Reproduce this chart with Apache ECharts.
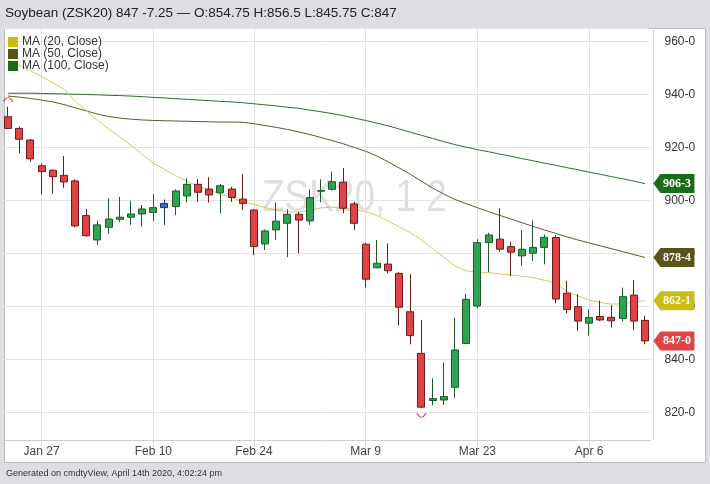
<!DOCTYPE html>
<html>
<head>
<meta charset="utf-8">
<script src="https://cdn.jsdelivr.net/npm/echarts@6.0.0/dist/echarts.min.js"></script>
<style>
html, body { margin: 0; padding: 0; background: #dcdee1; }
#main { width: 710px; height: 484px; }
</style>
</head>
<body>
<div id="main"></div>
<script>
let chart = echarts.init(document.getElementById("main"));

// trading days shown
const dates = [
    "Jan 22", "Jan 23", "Jan 24", "Jan 27", "Jan 28", "Jan 29", "Jan 30", "Jan 31",
    "Feb 3", "Feb 4", "Feb 5", "Feb 6", "Feb 7", "Feb 10", "Feb 11", "Feb 12", "Feb 13", "Feb 14",
    "Feb 18", "Feb 19", "Feb 20", "Feb 21", "Feb 24", "Feb 25", "Feb 26", "Feb 27", "Feb 28",
    "Mar 2", "Mar 3", "Mar 4", "Mar 5", "Mar 6", "Mar 9", "Mar 10", "Mar 11", "Mar 12", "Mar 13",
    "Mar 16", "Mar 17", "Mar 18", "Mar 19", "Mar 20", "Mar 23", "Mar 24", "Mar 25", "Mar 26", "Mar 27",
    "Mar 30", "Mar 31", "Apr 1", "Apr 2", "Apr 3", "Apr 6", "Apr 7", "Apr 8", "Apr 9", "Apr 13", "Apr 14"
];
const opens = [
    931.6, 927.2, 922.8, 913.1, 911.4, 909.5, 907.4, 894.3, 885.1, 889.9,
    892.9, 893.7, 894.9, 895.5, 897.3, 897.7, 901.7, 906.1, 904.3, 902.9,
    904.3, 900.5, 896.4, 883.6, 888.9, 891.4, 894.8, 892.3, 903.5, 904.2,
    906.9, 898.7, 883.5, 874.6, 876.0, 872.5, 858.0, 842.3, 824.5, 824.7,
    829.5, 846.0, 860.2, 884.1, 885.4, 882.6, 879.1, 880.1, 882.3, 886.0,
    865.0, 859.9, 853.7, 856.2, 855.9, 855.5, 864.3, 854.75
];
const closes = [
    927.2, 923.1, 915.7, 910.9, 909.0, 907.0, 890.4, 886.7, 890.8, 893.0,
    893.7, 894.9, 896.8, 897.3, 898.9, 903.6, 906.1, 903.1, 902.1, 905.6,
    901.1, 898.9, 882.6, 888.5, 892.2, 894.8, 892.6, 901.1, 903.75, 907.1,
    897.1, 891.4, 870.3, 876.3, 873.5, 859.7, 849.0, 822.0, 825.25, 826.0,
    843.6, 862.7, 884.1, 887.0, 881.6, 880.5, 881.6, 882.3, 886.1, 862.8,
    858.9, 854.5, 855.8, 854.9, 854.6, 863.7, 854.5, 847.0
];
const lows = [
    927.0, 917.8, 914.6, 902.3, 902.5, 904.8, 889.9, 886.3, 883.2, 887.4,
    891.8, 890.8, 890.1, 892.3, 890.8, 894.5, 899.2, 899.5, 899.2, 895.2,
    899.5, 896.4, 879.4, 881.3, 885.1, 878.6, 880.1, 890.8, 899.3, 903.7,
    895.2, 888.9, 867.2, 874.4, 872.5, 852.8, 845.7, 821.6, 822.8, 822.8,
    825.4, 846.0, 859.3, 872.9, 880.7, 871.5, 875.4, 877.2, 875.9, 861.2,
    857.4, 850.9, 849.0, 854.5, 852.0, 854.3, 851.1, 845.75
];
const highs = [
    935.4, 927.9, 923.2, 914.0, 911.8, 916.8, 908.0, 896.8, 892.3, 900.8,
    901.4, 899.9, 898.3, 902.3, 900.4, 904.2, 908.4, 908.1, 908.8, 906.2,
    905.2, 910.0, 896.7, 889.1, 899.2, 896.7, 895.8, 904.2, 908.0, 910.9,
    912.2, 899.5, 884.0, 885.1, 883.8, 872.9, 872.2, 854.9, 832.9, 838.8,
    855.8, 864.7, 885.4, 887.8, 897.1, 884.4, 888.9, 892.4, 887.2, 887.0,
    869.7, 864.6, 858.9, 862.2, 860.6, 867.1, 870.0, 856.5
];
const ma20 = [
    953.0, 951.0, 949.0, 946.8, 944.5, 942.0, 937.6, 933.9, 930.2, 927.0,
    924.1, 920.8, 917.4, 914.1, 911.7, 909.4, 907.3, 905.4, 903.9, 902.5,
    901.0, 899.5, 898.5, 897.3, 896.3, 895.8, 895.6, 896.3, 897.2, 897.5,
    897.0, 896.5, 895.8, 894.3, 892.2, 890.0, 887.9, 885.1, 881.8, 878.6,
    875.3, 873.4, 873.0, 872.8, 872.3, 871.9, 871.4, 870.9, 869.9, 868.9,
    865.8, 864.0, 862.5, 861.5, 860.9, 861.0, 861.7, 862.125
];
const ma50 = [
    939.4, 939.0, 938.5, 937.9, 937.2, 936.2, 935.0, 933.8, 932.6, 931.7,
    931.1, 930.7, 930.4, 930.2, 930.1, 930.0, 929.9, 929.8, 929.7, 929.6,
    929.6, 929.5, 929.0, 928.3, 927.6, 926.8, 925.9, 924.9, 923.8, 922.6,
    921.4, 920.0, 918.6, 916.8, 914.6, 912.3, 909.9, 907.3, 904.7, 902.4,
    900.4, 898.8, 897.3, 895.8, 894.4, 893.0, 891.6, 890.2, 888.9, 887.6,
    886.3, 885.1, 884.0, 882.9, 881.8, 880.7, 879.6, 878.5
];
const ma100 = [
    940.5, 940.5, 940.5, 940.4, 940.3, 940.2, 940.1, 940.0, 939.9, 939.7,
    939.6, 939.4, 939.2, 938.9, 938.7, 938.4, 938.2, 937.9, 937.7, 937.4,
    937.2, 936.9, 936.5, 936.1, 935.7, 935.2, 934.8, 934.1, 933.5, 932.8,
    932.0, 931.1, 930.2, 929.2, 928.2, 927.0, 925.8, 924.6, 923.4, 922.2,
    921.1, 920.1, 919.2, 918.4, 917.5, 916.7, 915.8, 915.0, 914.1, 913.3,
    912.4, 911.6, 910.7, 909.9, 909.0, 908.2, 907.3, 906.375
];
// labelled dates on the x axis
const xLabels = ["Jan 27", "Feb 10", "Feb 24", "Mar 9", "Mar 23", "Apr 6"];
// candle drawn in blue by cmdtyView
const blueDays = ["Feb 11"];

const last = dates.length - 1;

// grains are quoted in eighths: 906.375 -> 906-3
function toEighths(v) {
    let w = Math.floor(v);
    let f = Math.round((v - w) * 8);
    if (f == 8) { w++; f = 0; }
    return w + "-" + f;
}

function showDate(i, v) {
    return xLabels.includes(v);
}

let candles = dates.map((d, i) => {
    let item = { value: [opens[i], closes[i], lows[i], highs[i]] };
    if (blueDays.includes(d)) {
        item.itemStyle = { color: "#2f6fbf", borderColor: "#173a6a" };
    }
    return item;
});

let lowIdx = lows.indexOf(Math.min(...lows));
let highIdx = highs.indexOf(Math.max(...highs));

// price tag on the right side
function tag(value, color) {
    return {
        coord: [last, value],
        value: value,
        symbol: "path://M0,9.5 L7,0 L41,0 L41,19 L7,19 Z",
        symbolSize: [41, 19],
        symbolOffset: [29, 0],
        itemStyle: { color: color, opacity: 1 },
        label: {
            show: true,
            formatter: (p) => toEighths(p.value),
            color: "#fff",
            fontWeight: "bold",
            fontFamily: "Liberation Serif",
            fontSize: 12,
            offset: [3, 0]
        }
    };
}

function maSeries(name, data, color, lineColor) {
    return {
        name: name,
        type: "line",
        data: data,
        showSymbol: false,
        silent: true,
        lineStyle: { color: lineColor, width: 1 },
        itemStyle: { color: color },
        z: 3,
        markPoint: { silent: true, data: [tag(data[last], color)] }
    };
}

var option = {
    animation: false,
    backgroundColor: "#dcdee1",
    textStyle: { fontFamily: "Liberation Sans" },
    title: [
        {
            text: "Soybean (ZSK20) 847 -7.25 \u2014 O:854.75 H:856.5 L:845.75 C:847",
            left: 5,
            top: 6,
            padding: 0,
            textStyle: { fontSize: 13.5, fontWeight: "normal", color: "#222" }
        },
        {
            text: "Generated on cmdtyView, April 14th 2020, 4:02:24 pm",
            left: 6,
            top: 469,
            padding: 0,
            textStyle: { fontSize: 9, fontWeight: "normal", color: "#333" }
        }
    ],
    legend: {
        data: ["MA (20, Close)", "MA (50, Close)", "MA (100, Close)"],
        orient: "vertical",
        left: 8,
        top: 36,
        padding: 0,
        itemGap: 0,
        itemWidth: 10,
        itemHeight: 10,
        icon: "rect",
        selectedMode: false,
        textStyle: { fontSize: 12, color: "#333", lineHeight: 12, padding: [0, 0, 0, -1] }
    },
    graphic: [
        {
            type: "rect",
            z: -10,
            silent: true,
            shape: { x: 4.5, y: 28.5, width: 701, height: 434 },
            style: { fill: "#fff", stroke: "#b9b9b9" }
        },
        {
            type: "line",
            z: -5,
            silent: true,
            shape: { x1: 653.5, y1: 28, x2: 653.5, y2: 440 },
            style: { stroke: "#d6d6d6" }
        },
        {
            type: "text",
            z: -4,
            silent: true,
            x: 262,
            y: 177,
            scaleX: 0.84,
            style: {
                text: "ZSK20, 1 2",
                font: "44px Liberation Sans",
                fill: "rgba(150,150,150,0.3)"
            }
        }
    ],
    grid: {
        left: 2.5,
        top: 28,
        width: 648,
        height: 412
    },
    xAxis: {
        type: "category",
        data: dates,
        boundaryGap: true,
        axisLine: { lineStyle: { color: "#cfcfcf" } },
        axisTick: {
            show: true,
            alignWithLabel: true,
            interval: showDate,
            length: 7,
            lineStyle: { color: "#d6d6d6" }
        },
        axisLabel: { interval: showDate, color: "#444", fontSize: 12, margin: 6 },
        splitLine: {
            show: true,
            alignWithLabel: true,
            interval: showDate,
            lineStyle: { color: "#e2e2e2" }
        }
    },
    yAxis: {
        type: "value",
        position: "right",
        scale: true,
        min: 809.6,
        max: 965.1,
        splitNumber: 8,
        axisLine: { show: false },
        axisTick: { show: false },
        axisLabel: {
            color: "#333",
            fontSize: 12,
            margin: 14,
            showMinLabel: false,
            showMaxLabel: false,
            formatter: toEighths
        },
        splitLine: { lineStyle: { color: "#e2e2e2" } }
    },
    series: [
        maSeries("MA (100, Close)", ma100, "#1b6b1d", "#2e6e30"),
        maSeries("MA (50, Close)", ma50, "#5a5319", "#5f5a2a"),
        maSeries("MA (20, Close)", ma20, "#c9bc12", "#d6c964"),
        {
            name: "ZSK20",
            type: "candlestick",
            data: candles,
            barWidth: 7.5,
            z: 4,
            silent: true,
            itemStyle: {
                color: "#2ea452",
                color0: "#df4343",
                borderColor: "#1d5b2d",
                borderColor0: "#6a1d1d",
                borderWidth: 1
            },
            markPoint: {
                silent: true,
                data: [
                    tag(closes[last], "#e04444"),
                    {
                        coord: [highIdx, highs[highIdx]],
                        symbol: "path://M0,6 Q5,-2 10,6",
                        symbolSize: [9, 4],
                        symbolOffset: [0, -7],
                        itemStyle: { color: "none", borderColor: "#e04444", borderWidth: 1 },
                        label: { show: false }
                    },
                    {
                        coord: [lowIdx, lows[lowIdx]],
                        symbol: "path://M0,0 Q5,8 10,0",
                        symbolSize: [9, 4],
                        symbolOffset: [0, 7],
                        itemStyle: { color: "none", borderColor: "#e04444", borderWidth: 1 },
                        label: { show: false }
                    }
                ]
            }
        }
    ]
};

chart.setOption(option);
</script>
</body>
</html>
